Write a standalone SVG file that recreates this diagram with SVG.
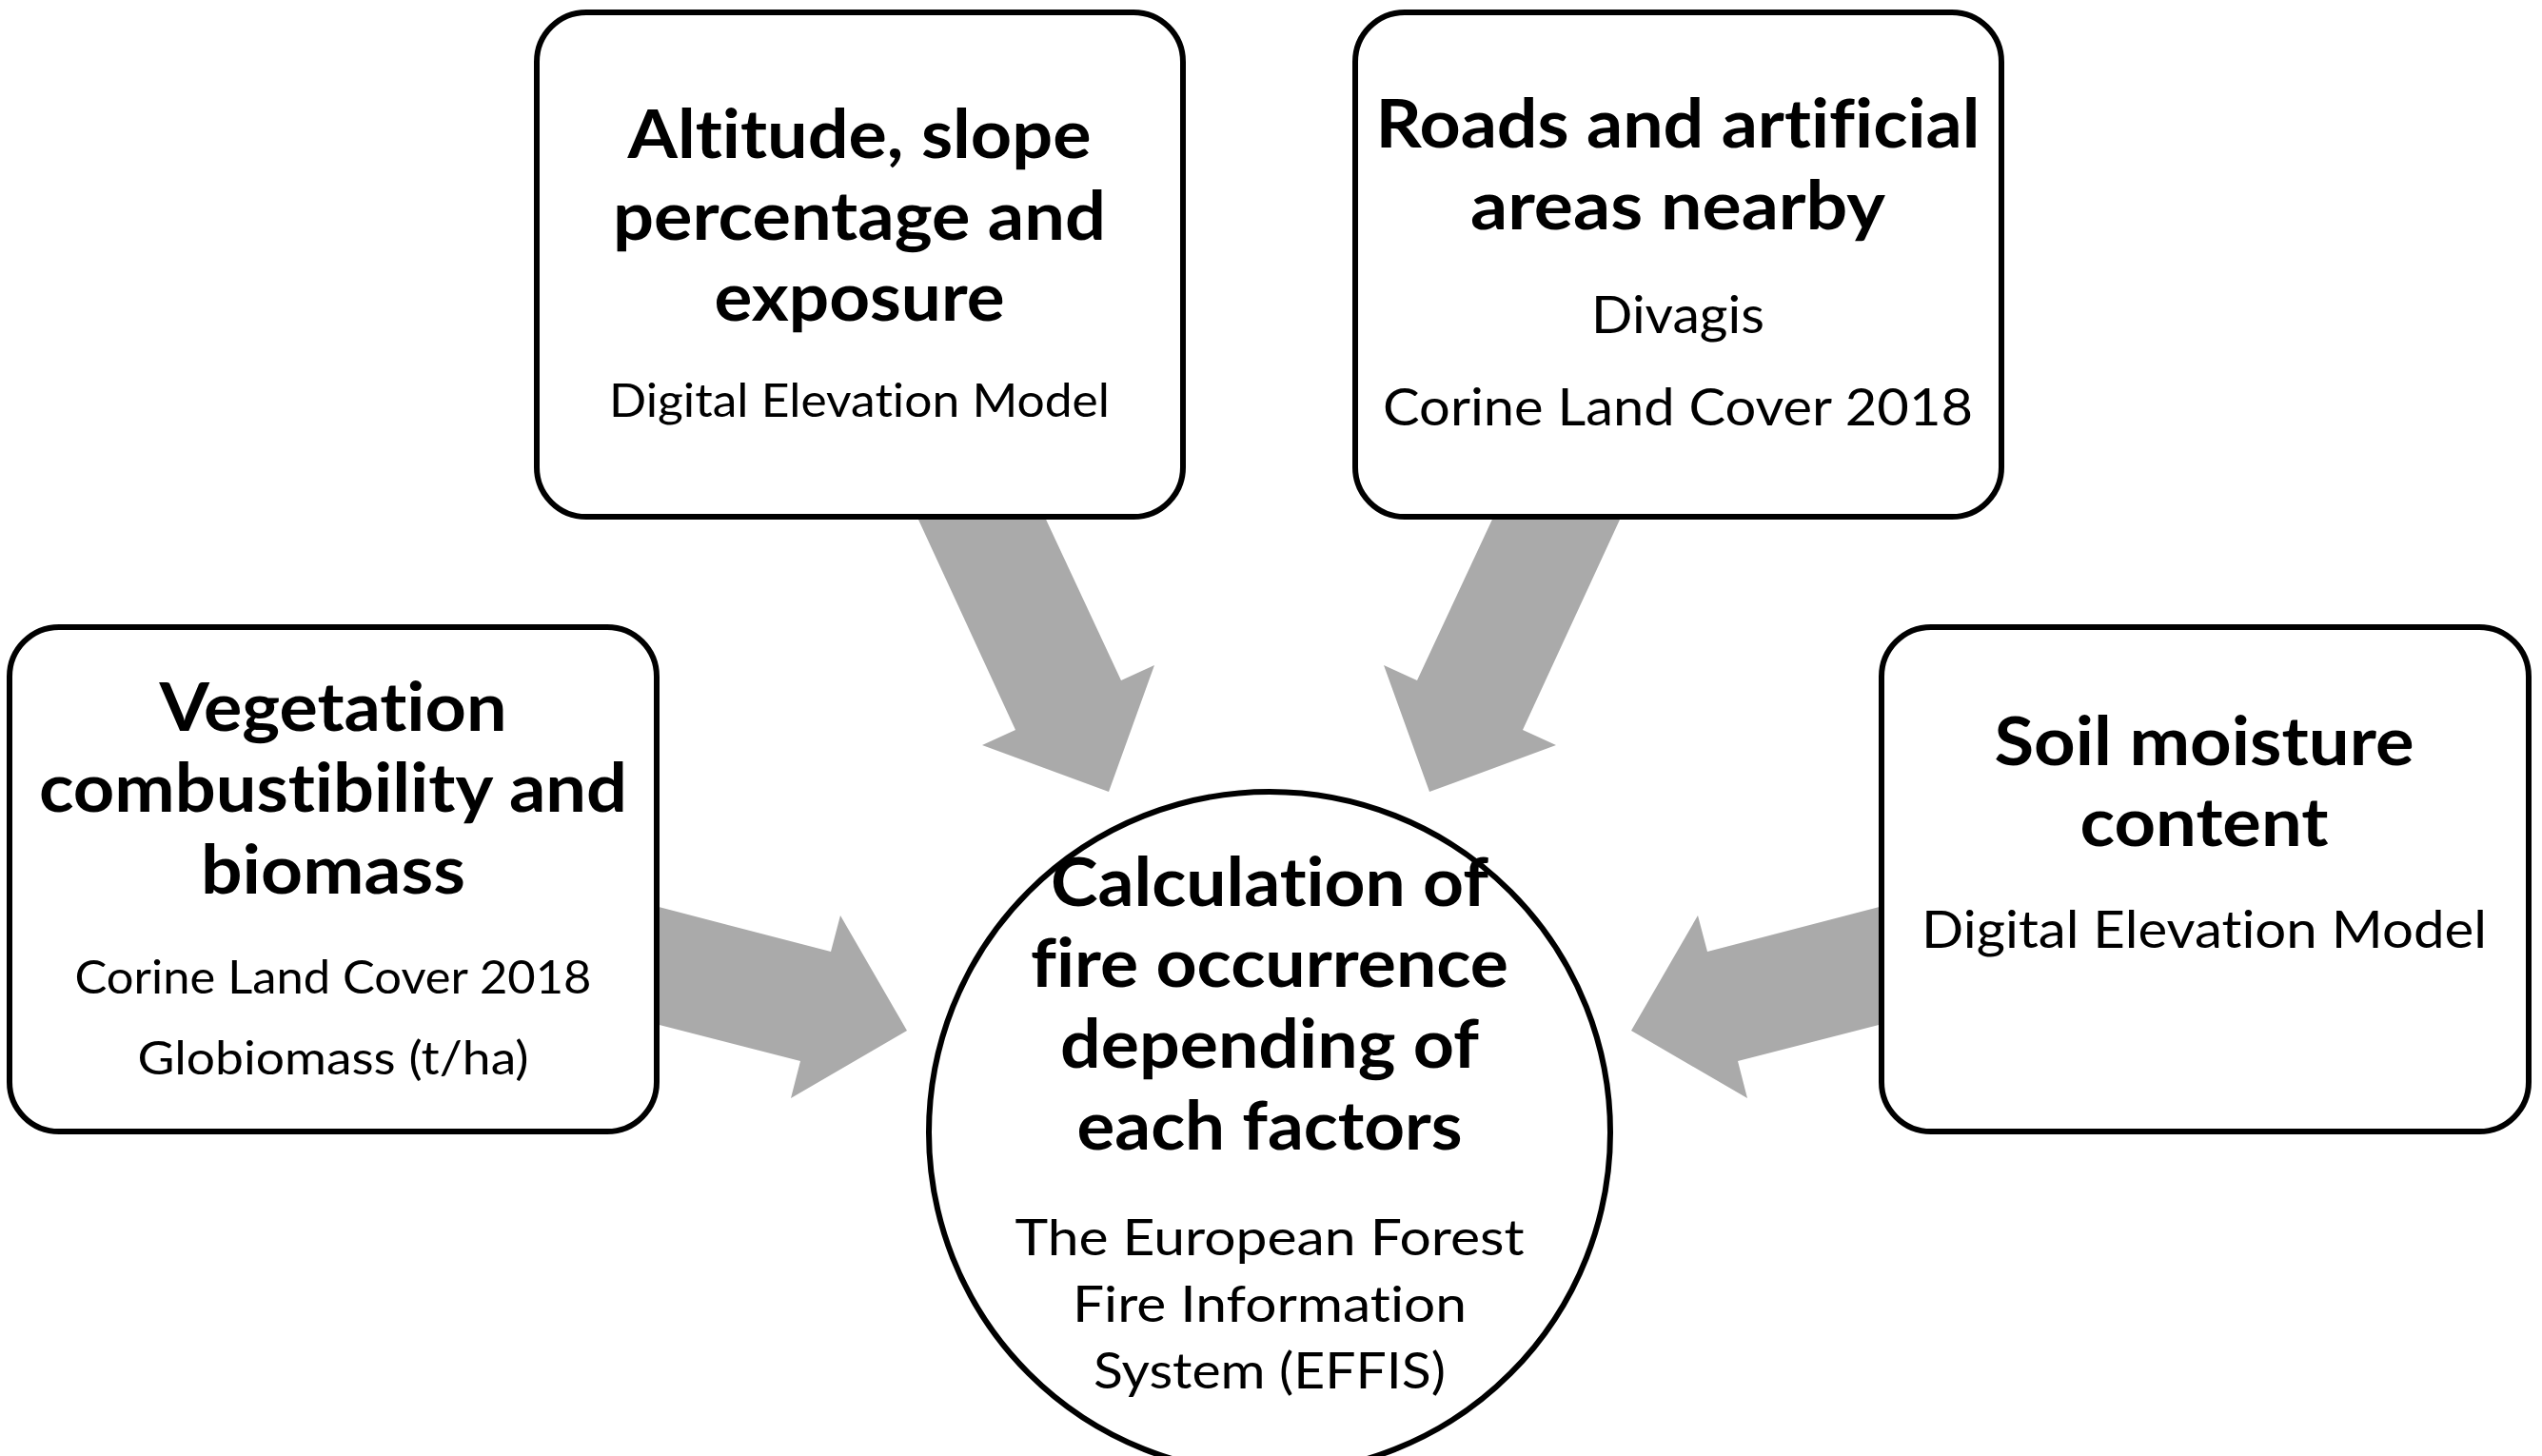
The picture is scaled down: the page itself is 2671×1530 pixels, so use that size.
<svg xmlns="http://www.w3.org/2000/svg" width="2671" height="1530" viewBox="0 0 2671 1530">
<style>
.box{fill:#fff;stroke:#000;stroke-width:6}
.arr{fill:#AAAAAA;stroke:none}
.t{font-family:Lato,"Open Sans","Liberation Sans",sans-serif;font-weight:700;font-size:70px;fill:#000;text-anchor:middle;font-variant-ligatures:none}
.s{font-family:Lato,"Open Sans","Liberation Sans",sans-serif;font-weight:400;fill:#000;text-anchor:middle;font-variant-ligatures:none}
</style>
<rect width="2671" height="1530" fill="#fff"/>
<g id="connectors">
<polygon class="arr" points="953,520 1087,520 1178,715 1213,699 1165,832 1032,783 1067,767"/>
<polygon class="arr" points="1714,520 1580,520 1489,715 1454,699 1502,832 1635,783 1600,767"/>
<polygon class="arr" points="650,942 873,1000 883,962 953,1083 831,1154 841,1115 650,1066"/>
<polygon class="arr" points="2017,942 1794,1000 1784,962 1714,1083 1836,1154 1826,1115 2017,1066"/>
</g>
<g id="node-altitude">
<rect class="box" x="564" y="13" width="679" height="530" rx="52" ry="52"/>
<text class="t" x="903" y="166" textLength="487" lengthAdjust="spacingAndGlyphs">Altitude, slope</text>
<text class="t" x="903" y="252" textLength="518" lengthAdjust="spacingAndGlyphs">percentage and</text>
<text class="t" x="903" y="337" textLength="305" lengthAdjust="spacingAndGlyphs">exposure</text>
<text class="s" x="903" y="438" font-size="48" textLength="526" lengthAdjust="spacingAndGlyphs">Digital Elevation Model</text>
</g>
<g id="node-roads">
<rect class="box" x="1424" y="13" width="679" height="530" rx="52" ry="52"/>
<text class="t" x="1763" y="155" textLength="635" lengthAdjust="spacingAndGlyphs">Roads and artificial</text>
<text class="t" x="1763" y="241" textLength="436" lengthAdjust="spacingAndGlyphs">areas nearby</text>
<text class="s" x="1763" y="350" font-size="54" textLength="182" lengthAdjust="spacingAndGlyphs">Divagis</text>
<text class="s" x="1763" y="447" font-size="54" textLength="620" lengthAdjust="spacingAndGlyphs">Corine Land Cover 2018</text>
</g>
<g id="node-vegetation">
<rect class="box" x="10" y="659" width="680" height="530" rx="52" ry="52"/>
<text class="t" x="350" y="768" textLength="365" lengthAdjust="spacingAndGlyphs">Vegetation</text>
<text class="t" x="350" y="853" textLength="618" lengthAdjust="spacingAndGlyphs">combustibility and</text>
<text class="t" x="350" y="939" textLength="278" lengthAdjust="spacingAndGlyphs">biomass</text>
<text class="s" x="350" y="1044" font-size="48" textLength="543" lengthAdjust="spacingAndGlyphs">Corine Land Cover 2018</text>
<text class="s" x="350" y="1129" font-size="48" textLength="411" lengthAdjust="spacingAndGlyphs">Globiomass (t/ha)</text>
</g>
<g id="node-soil">
<rect class="box" x="1977" y="659" width="680" height="530" rx="52" ry="52"/>
<text class="t" x="2316" y="804" textLength="441" lengthAdjust="spacingAndGlyphs">Soil moisture</text>
<text class="t" x="2316" y="889" textLength="261" lengthAdjust="spacingAndGlyphs">content</text>
<text class="s" x="2316" y="996" font-size="54" textLength="594" lengthAdjust="spacingAndGlyphs">Digital Elevation Model</text>
</g>
<g id="node-calculation">
<circle class="box" cx="1334" cy="1190" r="358"/>
<text class="t" x="1334" y="952" textLength="460" lengthAdjust="spacingAndGlyphs">Calculation of</text>
<text class="t" x="1334" y="1037" textLength="502" lengthAdjust="spacingAndGlyphs">fire occurrence</text>
<text class="t" x="1334" y="1122" textLength="440" lengthAdjust="spacingAndGlyphs">depending of</text>
<text class="t" x="1334" y="1208" textLength="405" lengthAdjust="spacingAndGlyphs">each factors</text>
<text class="s" x="1334" y="1319" font-size="52" textLength="535" lengthAdjust="spacingAndGlyphs">The European Forest</text>
<text class="s" x="1334" y="1389" font-size="52" textLength="414" lengthAdjust="spacingAndGlyphs">Fire Information</text>
<text class="s" x="1334" y="1459" font-size="52" textLength="370" lengthAdjust="spacingAndGlyphs">System (EFFIS)</text>
</g>
</svg>
